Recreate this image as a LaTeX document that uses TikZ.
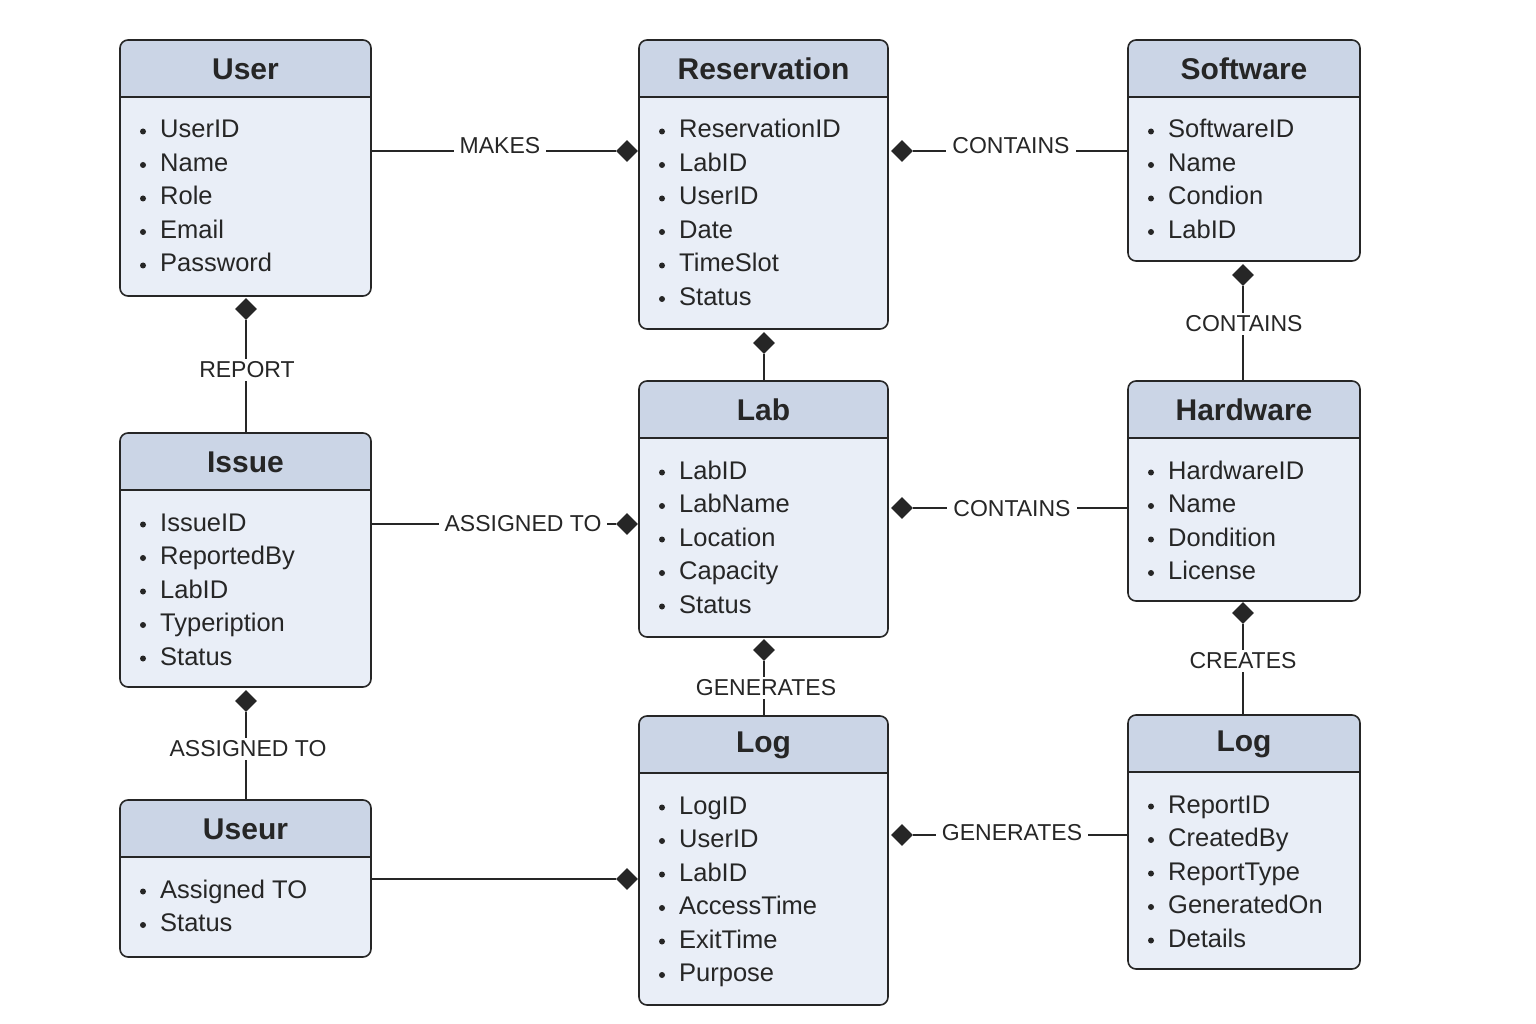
\documentclass[tikz,border=0pt]{standalone}
\usepackage{fontspec}
\setmainfont{Liberation Sans}
\usetikzlibrary{shapes.geometric}
\definecolor{headfill}{HTML}{CBD5E6}
\definecolor{bodyfill}{HTML}{E9EEF7}
\definecolor{ink}{HTML}{262626}
\tikzset{
  ebox/.style={fill=bodyfill, rounded corners=8, inner sep=0, outer sep=0},
  eborder/.style={draw=ink, line width=1.6, rounded corners=8},
  etitle/.style={font=\fontsize{30}{34}\selectfont\bfseries, text=ink},
  attr/.style={font=\fontsize{25.5}{30}\selectfont, text=ink, inner sep=0},
  conn/.style={draw=ink, line width=1.5},
  dia/.style={diamond, fill=ink, inner sep=0, minimum width=22, minimum height=22},
  lbl/.style={font=\fontsize{23}{27}\selectfont, text=ink, fill=white, inner xsep=6, inner ysep=3}
}
\newcommand\entity[7]{%
  \node[ebox, anchor=north west, minimum width={#4-#2}, minimum height={#5-#3}] (#1) at (#2,#3) {};
  \fill[headfill] (#2,#3+57) [rounded corners=8] -- (#2,#3) -- (#4,#3) [sharp corners] -- (#4,#3+57) -- cycle;
  \draw[draw=ink, line width=1.6] (#2,#3+57) -- (#4,#3+57);
  \draw[eborder] (#2,#3) rectangle (#4,#5);
  \node[etitle] at ({(#2+#4)/2},#3+29) {#6};
  \foreach \t [count=\i] in {#7} {
    \fill[ink] ({#2+23},{#3+57+34.5+(\i-1)*33.5}) circle (3);
    \node[attr, anchor=base west] at ({#2+40},{#3+57+41+(\i-1)*33.5}) {\t};
  }
}
\begin{document}
\begin{tikzpicture}[x=1pt,y=-1pt]
\useasboundingbox[fill=white] (0,0) rectangle (1536,1024);
% entities
\entity{user}{120}{40}{371}{296}{User}{UserID,Name,Role,Email,Password}
\entity{res}{639}{40}{888}{329}{Reservation}{ReservationID,LabID,UserID,Date,TimeSlot,Status}
\entity{soft}{1128}{40}{1360}{261}{Software}{SoftwareID,Name,Condion,LabID}
\entity{issue}{120}{433}{371}{687}{Issue}{IssueID,ReportedBy,LabID,Typeription,Status}
\entity{lab}{639}{381}{888}{637}{Lab}{LabID,LabName,Location,Capacity,Status}
\entity{hard}{1128}{381}{1360}{601}{Hardware}{HardwareID,Name,Dondition,License}
\entity{useur}{120}{800}{371}{957}{Useur}{Assigned TO,Status}
\entity{logm}{639}{716}{888}{1005}{Log}{LogID,UserID,LabID,AccessTime,ExitTime,Purpose}
\entity{logr}{1128}{715}{1360}{969}{Log}{ReportID,CreatedBy,ReportType,GeneratedOn,Details}
% User -> Reservation
\node[dia] (d1) at (627,151) {};
\draw[conn] (d1.west) -- (d1 -| user.east);
\node[lbl] (l1) at (500,146) {MAKES};
% Reservation -> Software
\node[dia] (d2) at (902,151) {};
\draw[conn] (d2.east) -- (d2 -| soft.west);
\node[lbl] (l2) at (1011,146) {CONTAINS};
% Software -> Hardware
\node[dia] (d3) at (1243,275) {};
\draw[conn] (d3.south) -- (d3 |- hard.north);
\node[lbl] (l3) at (1244,324) {CONTAINS};
% Reservation -> Lab
\node[dia] (d4) at (764,343) {};
\draw[conn] (d4.south) -- (d4 |- lab.north);
% User -> Issue
\node[dia] (d5) at (246,309) {};
\draw[conn] (d5.south) -- (d5 |- issue.north);
\node[lbl] (l5) at (247,370) {REPORT};
% Issue -> Lab
\node[dia] (d6) at (627,524) {};
\draw[conn] (d6.west) -- (d6 -| issue.east);
\node[lbl] (l6) at (523,524) {ASSIGNED TO};
% Lab -> Hardware
\node[dia] (d7) at (902,508) {};
\draw[conn] (d7.east) -- (d7 -| hard.west);
\node[lbl] (l7) at (1012,509) {CONTAINS};
% Hardware -> Log (right)
\node[dia] (d8) at (1243,613) {};
\draw[conn] (d8.south) -- (d8 |- logr.north);
\node[lbl] (l8) at (1243,661) {CREATES};
% Lab -> Log (middle)
\node[dia] (d9) at (764,650) {};
\draw[conn] (d9.south) -- (d9 |- logm.north);
\node[lbl] (l9) at (766,688) {GENERATES};
% Issue -> Useur
\node[dia] (d10) at (246,701) {};
\draw[conn] (d10.south) -- (d10 |- useur.north);
\node[lbl] (l10) at (248,749) {ASSIGNED TO};
% Useur -> Log (middle)
\node[dia] (d11) at (627,879) {};
\draw[conn] (d11.west) -- (d11 -| useur.east);
% Log (middle) -> Log (right)
\node[dia] (d12) at (902,835) {};
\draw[conn] (d12.east) -- (d12 -| logr.west);
\node[lbl] (l12) at (1012,833) {GENERATES};
\end{tikzpicture}
\end{document}
